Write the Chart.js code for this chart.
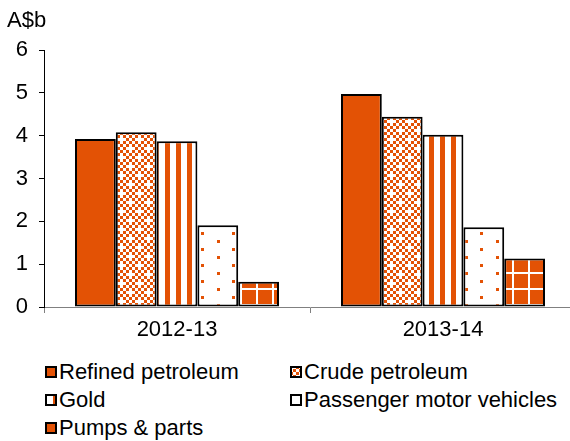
<!DOCTYPE html>
<html>
<head>
<meta charset="utf-8">
<script src="https://cdn.jsdelivr.net/npm/chart.js@4/dist/chart.umd.min.js"></script>
<style>
  html, body { margin: 0; padding: 0; background: #fff; overflow: hidden; }
  #wrap { position: relative; width: 570px; height: 441px; overflow: hidden; font-family: 'Liberation Sans', Arial, sans-serif; color: #000; }
  #chart { position: absolute; left: 0; top: 0; }
  #unit { position: absolute; left: 7px; top: 7px; font-size: 22px; }
  .item { position: absolute; font-size: 22px; line-height: 26px; white-space: nowrap; }
  .item canvas { position: absolute; left: 0; top: 7px; }
  .item span { position: absolute; left: 14px; top: 0; }
</style>
</head>
<body>
<div id="wrap">
  <canvas id="chart" width="576" height="345"></canvas>
  <div id="unit">A$b</div>
  <div id="legend"></div>
</div>
<script>
// data
const categories = ['2012-13', '2013-14'];
const seriesNames = ['Refined petroleum', 'Crude petroleum', 'Gold', 'Passenger motor vehicles', 'Pumps & parts'];
const refinedPetroleum = [3.92, 4.97];
const crudePetroleum = [4.08, 4.44];
const gold = [3.87, 4.02];
const passengerVehicles = [1.91, 1.86];
const pumpsParts = [0.59, 1.13];
const yMin = 0, yMax = 6, yStep = 1;

const ORANGE = '#E35205';

function tile(w, h, paint) {
  const c = document.createElement('canvas');
  c.width = w; c.height = h;
  const g = c.getContext('2d');
  paint(g);
  return c;
}

// fills, roughly like the excel pattern fills
function solidFill(g) { g.fillStyle = ORANGE; g.fillRect(0, 0, 8, 8); }
function checkerFill(g) {
  g.fillStyle = '#fff'; g.fillRect(0, 0, 18, 18);
  g.fillStyle = ORANGE;
  for (let i = 0; i < 6; i++) {
    for (let j = 0; j < 6; j++) {
      if ((i + j) % 2 === 0 && !(i === 1 && j === 1) && !(i === 4 && j === 4)) g.fillRect(i * 3, j * 3, 3, 3);
    }
  }
}
function stripeFill(g) {
  g.fillStyle = '#fff'; g.fillRect(0, 0, 11, 4);
  g.fillStyle = ORANGE; g.fillRect(0, 0, 5, 4);
}
function dotFill(g) {
  g.fillStyle = '#fff'; g.fillRect(0, 0, 31, 16);
  g.fillStyle = ORANGE;
  g.fillRect(0, 0, 3, 3);
  g.fillRect(15, 8, 3, 3);
}
function gridFill(g) {
  g.fillStyle = ORANGE; g.fillRect(0, 0, 16, 16);
  g.fillStyle = '#fff';
  g.fillRect(0, 0, 16, 2);
  g.fillRect(0, 0, 2, 16);
}

const ctx = document.getElementById('chart').getContext('2d');
const fills = [
  tile(8, 8, solidFill),
  tile(18, 18, checkerFill),
  tile(11, 4, stripeFill),
  tile(31, 16, dotFill),
  tile(16, 16, gridFill)
].map(t => ctx.createPattern(t, 'repeat'));

const seriesValues = [refinedPetroleum, crudePetroleum, gold, passengerVehicles, pumpsParts];
const datasets = seriesNames.map((name, i) => ({
  label: name,
  data: seriesValues[i],
  backgroundColor: fills[i],
  borderColor: '#000',
  borderWidth: 2,
  borderSkipped: false,
  barPercentage: 1,
  categoryPercentage: 0.767
}));

const font = { family: "'Liberation Sans', Arial, sans-serif", size: 22 };

new Chart(ctx, {
  type: 'bar',
  data: { labels: categories, datasets: datasets },
  options: {
    responsive: false,
    animation: false,
    devicePixelRatio: 1,
    layout: { padding: { top: 50, left: 0, right: 0, bottom: 0 } },
    plugins: { legend: { display: false }, tooltip: { enabled: false } },
    scales: {
      x: {
        grid: { drawOnChartArea: false, drawTicks: true, tickLength: 6, color: '#808080', offset: true },
        border: { display: true, color: '#808080', width: 1 },
        ticks: { color: '#000', font: font, padding: 4, maxRotation: 0 },
        afterFit: s => { s.height = 38; }
      },
      y: {
        min: yMin, max: yMax,
        grid: { drawOnChartArea: false, drawTicks: true, tickLength: 5, color: '#000' },
        border: { display: true, color: '#000', width: 1 },
        ticks: { stepSize: yStep, color: '#000', font: font, padding: 11 },
        afterFit: s => { s.width = 44; }
      }
    }
  }
});

// legend in two columns
const legendPos = [[45, 359], [290, 359], [45, 387], [290, 387], [45, 415]];
const legend = document.getElementById('legend');
seriesNames.forEach((name, i) => {
  const item = document.createElement('div');
  item.className = 'item';
  item.style.left = legendPos[i][0] + 'px';
  item.style.top = legendPos[i][1] + 'px';
  const sw = document.createElement('canvas');
  sw.width = 12; sw.height = 12;
  const g = sw.getContext('2d');
  g.fillStyle = g.createPattern(tile([8, 18, 11, 31, 16][i], [8, 18, 4, 16, 16][i], [solidFill, checkerFill, stripeFill, dotFill, gridFill][i]), 'repeat');
  g.save(); g.translate(-3, -3); g.fillRect(3, 3, 12, 12); g.restore();
  g.strokeStyle = '#000'; g.lineWidth = 2;
  g.strokeRect(1, 1, 10, 10);
  const txt = document.createElement('span');
  txt.textContent = name;
  item.appendChild(sw);
  item.appendChild(txt);
  legend.appendChild(item);
});
</script>
</body>
</html>
